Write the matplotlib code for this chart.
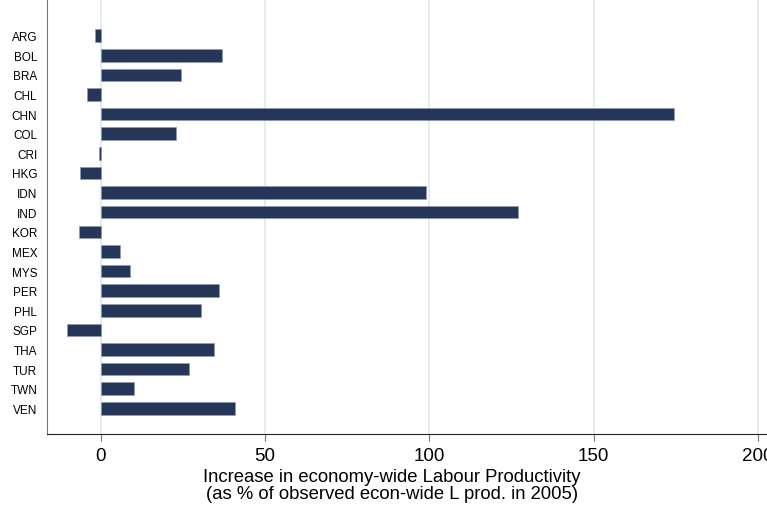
import numpy as np
import matplotlib
matplotlib.use('Agg')
import matplotlib.pyplot as plt

# data
countries = ['ARG', 'BOL', 'BRA', 'CHL', 'CHN', 'COL', 'CRI', 'HKG', 'IDN', 'IND',
             'KOR', 'MEX', 'MYS', 'PER', 'PHL', 'SGP', 'THA', 'TUR', 'TWN', 'VEN']
values = [-1.7, 37.0, 24.5, -4.1, 174.4, 23.0, -0.6, -6.2, 99.0, 127.0,
          -6.7, 5.9, 9.0, 36.0, 30.6, -10.2, 34.5, 26.9, 10.2, 40.9]
xticks = [0, 50, 100, 150, 200]

plt.rcParams['font.family'] = ['Liberation Sans', 'DejaVu Sans']

fig = plt.figure(figsize=(7.67, 5.10), dpi=100)
ax = fig.add_axes([0.0613, 0.147, 0.9387, 0.853])

ypos = np.arange(len(countries))
ax.barh(ypos, values, height=0.64, color='#253658', edgecolor='#8f9bb0', linewidth=0.5, zorder=3)

ax.set_yticks(ypos)
ax.set_yticklabels(countries, fontsize=8.5)
ax.tick_params(axis='y', length=0, pad=7)
ax.set_ylim(len(countries) - 1 + 1.31, -1.87)

ax.set_xticks(xticks)
ax.set_xticklabels([str(t) for t in xticks], fontsize=13.5)
ax.tick_params(axis='x', length=5, color='#777777', pad=4)
ax.set_xlim(-16.3, 202.7)
ax.grid(axis='x', color='#e3eaed', linewidth=1.3, zorder=0)

for s in ['top', 'right']:
    ax.spines[s].set_visible(False)
ax.spines['left'].set_color('#777777')
ax.spines['bottom'].set_color('#222222')

fig.text(392 / 767, 1 - 478 / 510, 'Increase in economy-wide Labour Productivity',
         ha='center', va='center', fontsize=13.3)
fig.text(392 / 767, 1 - 495 / 510, '(as % of observed econ-wide L prod. in 2005)',
         ha='center', va='center', fontsize=13.3)

fig.savefig('out.png', dpi=100)
